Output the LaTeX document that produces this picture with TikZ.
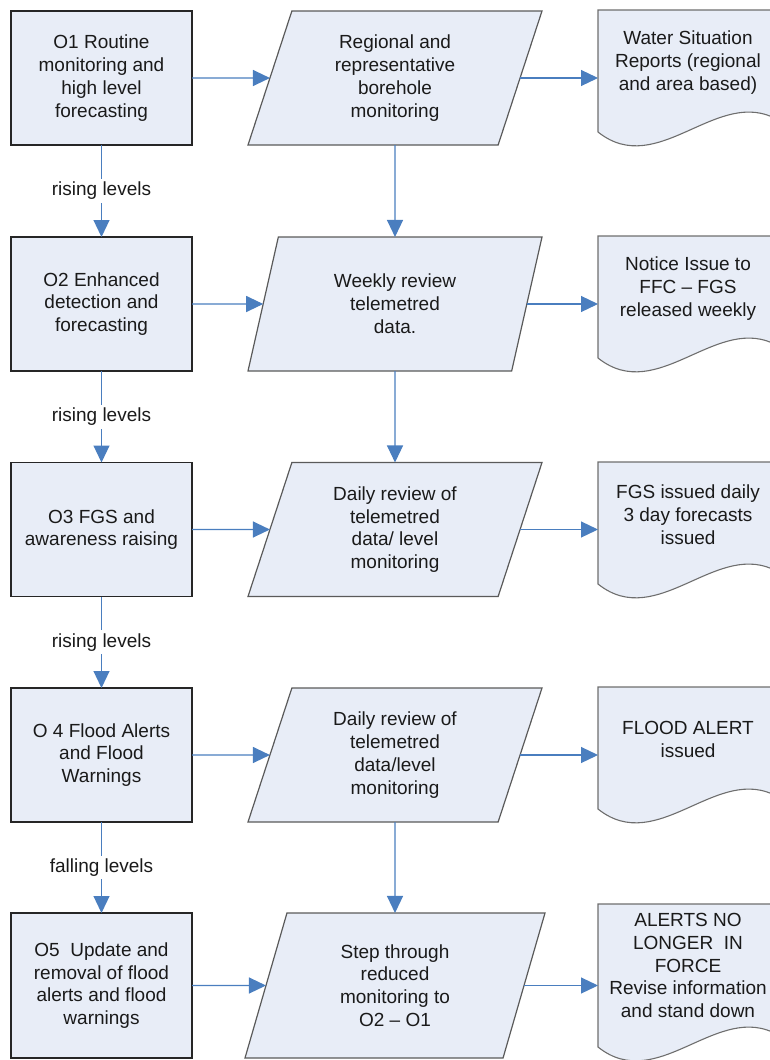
\documentclass[tikz,border=0pt]{standalone}
\usepackage{fontspec}
\setmainfont{Liberation Sans}
\usetikzlibrary{shapes.geometric,arrows.meta}
\definecolor{fillb}{HTML}{E8EDF7}
\definecolor{arrb}{HTML}{4A7EBF}
\definecolor{pgray}{HTML}{5A5A5A}
\definecolor{dgray}{HTML}{6E6E6E}
\definecolor{txt}{HTML}{1A1A1A}
\newcommand\docshape[4]{%
  \filldraw[fill=fillb, draw=dgray, line width=1.1pt]
    (598,#2) -- (778,#2) -- (778,#2+#3-12)
    .. controls (718,#2+#3-47) and (658,#2+#3+48) .. (598,#2+#3) -- cycle;
  \node[docanchor=#3 pt] (#1) at (688,#2+#3/2) {};
  \node (#1t) at (688,#2+0.43*#3) {#4};
}
\begin{document}
\begin{tikzpicture}[x=1pt,y=-1pt,
  font=\fontsize{19}{22.8}\selectfont,
  every node/.style={text=txt, inner sep=0pt, outer sep=0pt, align=center},
  procbox/.style={draw=black!85, line width=1.2pt, fill=fillb, minimum width=181pt, minimum height=#1},
  procbox/.default=134pt,
  iobox/.style={trapezium, trapezium left angle=63, trapezium right angle=117,
    trapezium stretches body=true, draw=pgray, line width=1.2pt, fill=fillb,
    minimum width=#1, minimum height=134pt},
  iobox/.default=294pt,
  docanchor/.style={minimum width=180pt, minimum height=#1},
  arr/.style={draw=arrb, line width=1.2pt, -{Triangle[length=17pt,width=16pt,fill=arrb]}},
  lbl/.style={fill=white, inner sep=3pt}]
\useasboundingbox (0,0) rectangle (770,1060);
\clip (0,0) rectangle (770,1060);

% left column
\node[procbox] (b1) at (101.5,78) {O1 Routine\\monitoring and\\high level\\forecasting};
\node[procbox] (b2) at (101.5,304) {O2 Enhanced\\detection and\\forecasting};
\node[procbox] (b3) at (101.5,529.5) {O3 FGS and\\awareness raising};
\node[procbox] (b4) at (101.5,755) {O 4 Flood Alerts\\and Flood\\Warnings};
\node[procbox=145pt] (b5) at (101.5,985.5) {O5\ \ Update and\\removal of flood\\alerts and flood\\warnings};

% middle column
\node[iobox] (p1) at (395,78) {Regional and\\representative\\borehole\\monitoring};
\node[iobox] (p2) at (395,304) {Weekly review\\telemetred\\data.};
\node[iobox] (p3) at (395,529.5) {Daily review of\\telemetred\\data/ level\\monitoring};
\node[iobox] (p4) at (395,755) {Daily review of\\telemetred\\data/level\\monitoring};
\node[iobox=300pt, minimum height=145pt] (p5) at (395,985.5) {Step through\\reduced\\monitoring to\\O2 -- O1};

% right column
\docshape{d1}{10}{122}{Water Situation\\Reports (regional\\and area based)}
\docshape{d2}{236}{122}{Notice Issue to\\FFC -- FGS\\released weekly}
\docshape{d3}{462}{122}{FGS issued daily\\3 day forecasts\\issued}
\docshape{d4}{687}{122}{FLOOD ALERT\\issued}
\docshape{d5}{904}{143}{ALERTS NO\\LONGER\ \ IN\\FORCE\\Revise information\\and stand down}

% vertical arrows left
\draw[arr] (b1.south) -- node[lbl] {rising levels} (b2.north);
\draw[arr] (b2.south) -- node[lbl] {rising levels} (b3.north);
\draw[arr] (b3.south) -- node[lbl] {rising levels} (b4.north);
\draw[arr] (b4.south) -- node[lbl] {falling levels} (b5.north);

% vertical arrows middle
\draw[arr] (p1.south) -- (p2.north);
\draw[arr] (p2.south) -- (p3.north);
\draw[arr] (p4.south) -- (p5.north);

% horizontal arrows
\foreach \i in {1,...,5}{
  \draw[arr] (b\i.east) -- (p\i.west);
  \draw[arr] (p\i.east) -- (p\i.east -| d\i.west);
}
\end{tikzpicture}
\end{document}
